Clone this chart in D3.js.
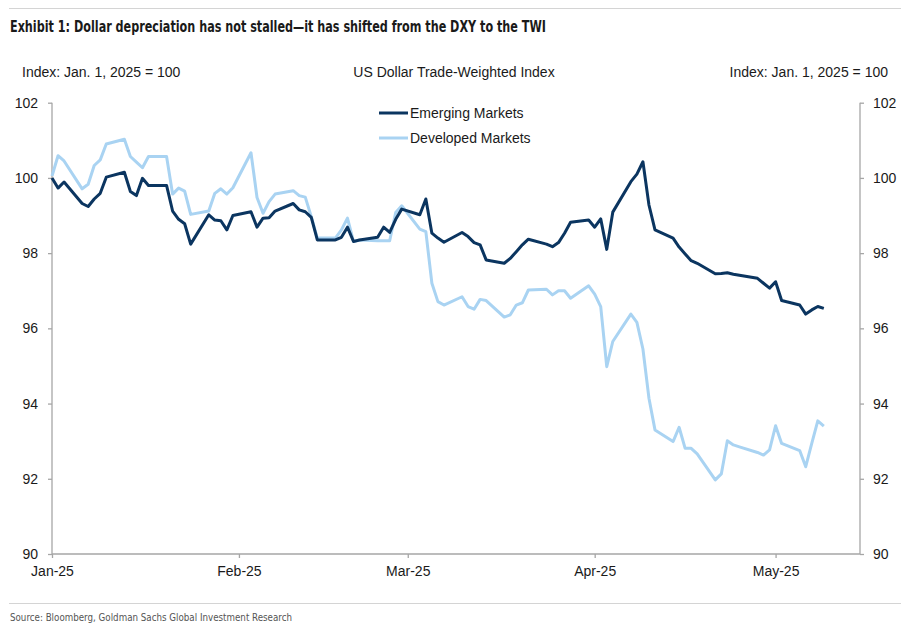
<!DOCTYPE html>
<html>
<head>
<meta charset="utf-8">
<script src="https://cdn.jsdelivr.net/npm/d3@7"></script>
<style>
  body { margin: 0; background: #fff; }
  text { font-family: "Liberation Sans", Arial, sans-serif; fill: #1a1a1a; }
</style>
</head>
<body>
<svg id="chart" width="901" height="627"></svg>
<script>
// business days
var dates = [
  "2025-01-01","2025-01-02","2025-01-03","2025-01-06","2025-01-07","2025-01-08","2025-01-09","2025-01-10",
  "2025-01-13","2025-01-14","2025-01-15","2025-01-16","2025-01-17","2025-01-20","2025-01-21","2025-01-22",
  "2025-01-23","2025-01-24","2025-01-27","2025-01-28","2025-01-29","2025-01-30","2025-01-31","2025-02-03",
  "2025-02-04","2025-02-05","2025-02-06","2025-02-07","2025-02-10","2025-02-11","2025-02-12","2025-02-13",
  "2025-02-14","2025-02-17","2025-02-18","2025-02-19","2025-02-20","2025-02-21","2025-02-24","2025-02-25",
  "2025-02-26","2025-02-27","2025-02-28","2025-03-03","2025-03-04","2025-03-05","2025-03-06","2025-03-07",
  "2025-03-10","2025-03-11","2025-03-12","2025-03-13","2025-03-14","2025-03-17","2025-03-18","2025-03-19",
  "2025-03-20","2025-03-21","2025-03-24","2025-03-25","2025-03-26","2025-03-27","2025-03-28","2025-03-31",
  "2025-04-01","2025-04-02","2025-04-03","2025-04-04","2025-04-07","2025-04-08","2025-04-09","2025-04-10",
  "2025-04-11","2025-04-14","2025-04-15","2025-04-16","2025-04-17","2025-04-18","2025-04-21","2025-04-22",
  "2025-04-23","2025-04-24","2025-04-25","2025-04-28","2025-04-29","2025-04-30","2025-05-01","2025-05-02",
  "2025-05-05","2025-05-06","2025-05-07","2025-05-08","2025-05-09"
];

var emerging = [
  100.00, 99.73, 99.89, 99.32, 99.24, 99.44, 99.59, 100.02,
  100.15, 99.64, 99.53, 99.99, 99.80, 99.80, 99.12, 98.90,
  98.78, 98.24, 99.02, 98.88, 98.86, 98.62, 99.00, 99.10,
  98.69, 98.93, 98.94, 99.12, 99.32, 99.15, 99.10, 98.95,
  98.35, 98.35, 98.42, 98.69, 98.31, 98.35, 98.42, 98.69,
  98.55, 98.90, 99.17, 99.02, 99.44, 98.53, 98.40, 98.29,
  98.55, 98.44, 98.28, 98.22, 97.82, 97.73, 97.86, 98.04,
  98.22, 98.37, 98.24, 98.17, 98.28, 98.53, 98.82, 98.88,
  98.69, 98.91, 98.10, 99.09, 99.90, 100.10, 100.43, 99.28,
  98.62, 98.40, 98.16, 97.98, 97.80, 97.73, 97.45, 97.46,
  97.48, 97.44, 97.41, 97.33, 97.20, 97.07, 97.24, 96.74,
  96.62, 96.38, 96.49, 96.58, 96.53
];

var developed = [
  100.05, 100.59, 100.45, 99.71, 99.83, 100.33, 100.48, 100.90,
  101.03, 100.57, 100.42, 100.27, 100.57, 100.57, 99.57, 99.73,
  99.65, 99.03, 99.12, 99.59, 99.71, 99.57, 99.74, 100.67,
  99.48, 99.06, 99.37, 99.57, 99.66, 99.53, 99.49, 98.97,
  98.40, 98.40, 98.62, 98.93, 98.31, 98.35, 98.33, 98.33,
  98.33, 99.08, 99.26, 98.64, 98.57, 97.20, 96.71, 96.62,
  96.84, 96.58, 96.51, 96.77, 96.74, 96.30, 96.36, 96.62,
  96.68, 97.02, 97.04, 96.89, 97.00, 97.00, 96.80, 97.13,
  96.91, 96.58, 94.98, 95.65, 96.38, 96.16, 95.45, 94.14,
  93.30, 92.99, 93.37, 92.81, 92.81, 92.66, 91.97, 92.13,
  93.01, 92.90, 92.85, 92.70, 92.63, 92.77, 93.41, 92.94,
  92.75, 92.32, 92.94, 93.54, 93.40
];

var yTicks = [90, 92, 94, 96, 98, 100, 102];
var monthTicks = ["2025-01-01","2025-02-01","2025-03-01","2025-04-01","2025-05-01"];
var seriesNames = ["Emerging Markets", "Developed Markets"];
var seriesColors = ["#0b3560", "#a9d3f2"];

var svg = d3.select("#chart");
var parse = d3.utcParse("%Y-%m-%d");

var plotLeft = 52, plotRight = 860, plotTop = 102.7, plotBottom = 554;

var x = d3.scaleUtc()
    .domain([parse("2025-01-01"), parse("2025-05-15")])
    .range([plotLeft, plotRight]);
var y = d3.scaleLinear().domain([90, 102]).range([plotBottom, plotTop]);

// frame lines
svg.append("line").attr("x1", 9).attr("x2", 901).attr("y1", 8.5).attr("y2", 8.5)
    .attr("stroke", "#d4d4d4").attr("stroke-width", 1.2);
svg.append("line").attr("x1", 9).attr("x2", 901).attr("y1", 603.5).attr("y2", 603.5)
    .attr("stroke", "#d4d4d4").attr("stroke-width", 1.2);

// title
svg.append("text")
    .attr("x", 10).attr("y", 32)
    .attr("font-size", "15px")
    .attr("font-weight", "bold")
    .style("font-family", "'Liberation Sans Narrow', 'DejaVu Sans Condensed', sans-serif")
    .attr("textLength", 536).attr("lengthAdjust", "spacingAndGlyphs")
    .text("Exhibit 1: Dollar depreciation has not stalled\u2014it has shifted from the DXY to the TWI");

// header labels
svg.append("text").attr("x", 22).attr("y", 77).attr("font-size", "14px")
    .text("Index: Jan. 1, 2025 = 100");
svg.append("text").attr("x", 454).attr("y", 77).attr("font-size", "14px")
    .attr("text-anchor", "middle").text("US Dollar Trade-Weighted Index");
svg.append("text").attr("x", 888).attr("y", 77).attr("font-size", "14px")
    .attr("text-anchor", "end").text("Index: Jan. 1, 2025 = 100");

// axes
var axisColor = "#a6a6a6";

var yLeft = svg.append("g").attr("transform", "translate(" + plotLeft + ",0)")
    .call(d3.axisLeft(y).tickValues(yTicks).tickSize(4).tickPadding(10));
var yRight = svg.append("g").attr("transform", "translate(" + plotRight + ",0)")
    .call(d3.axisRight(y).tickValues(yTicks).tickSize(4).tickPadding(9));
var xAxis = svg.append("g").attr("transform", "translate(0," + plotBottom + ")")
    .call(d3.axisBottom(x).tickValues(monthTicks.map(parse))
        .tickFormat(d3.utcFormat("%b-%y")).tickSize(4).tickPadding(6));

[yLeft, yRight, xAxis].forEach(function(a){
    a.select(".domain").attr("stroke", axisColor).attr("stroke-width", 1.3);
    a.selectAll(".tick line").attr("stroke", axisColor).attr("stroke-width", 1.3);
    a.selectAll("text").attr("font-size", "14px").attr("fill", "#1a1a1a")
        .style("font-family", "'Liberation Sans', Arial, sans-serif");
});
// excel-style domain without end caps
yLeft.select(".domain").attr("d", "M0," + plotTop + "V" + plotBottom);
yRight.select(".domain").attr("d", "M0," + plotTop + "V" + plotBottom);
xAxis.select(".domain").attr("d", "M" + plotLeft + ",0H" + plotRight);
xAxis.selectAll(".tick text").attr("dy", "0.85em");

// lines
var line = d3.line()
    .x(function(d){ return x(d.date); })
    .y(function(d){ return y(d.value); });

function build(values){
    return dates.map(function(s, i){ return { date: parse(s), value: values[i] }; });
}

svg.append("path").datum(build(developed))
    .attr("fill", "none").attr("stroke", seriesColors[1]).attr("stroke-width", 3)
    .attr("stroke-linejoin", "round").attr("d", line);
svg.append("path").datum(build(emerging))
    .attr("fill", "none").attr("stroke", seriesColors[0]).attr("stroke-width", 3)
    .attr("stroke-linejoin", "round").attr("d", line);

// legend
var legend = svg.append("g").attr("transform", "translate(379,113)");
seriesNames.forEach(function(name, i){
    legend.append("line").attr("x1", 0).attr("x2", 29)
        .attr("y1", i * 25).attr("y2", i * 25)
        .attr("stroke", seriesColors[i]).attr("stroke-width", 3);
    legend.append("text").attr("x", 31).attr("y", i * 25 + 5)
        .attr("font-size", "14px").text(name);
});

// source
svg.append("text")
    .attr("x", 10).attr("y", 621)
    .attr("font-size", "11px")
    .style("font-family", "'Liberation Sans Narrow', 'DejaVu Sans Condensed', sans-serif")
    .style("fill", "#555")
    .attr("textLength", 282).attr("lengthAdjust", "spacingAndGlyphs")
    .text("Source: Bloomberg, Goldman Sachs Global Investment Research");
</script>
</body>
</html>
